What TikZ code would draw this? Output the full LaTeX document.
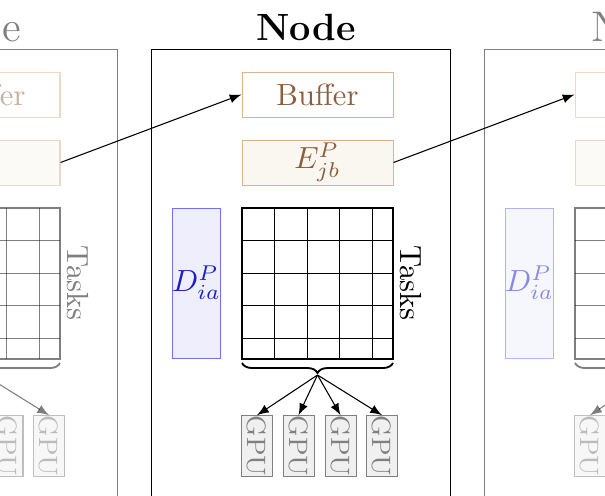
\documentclass[tikz,border=0pt]{standalone}
\usetikzlibrary{decorations.pathreplacing,arrows}
\definecolor{brownT}{RGB}{140,95,60}
\definecolor{brownB}{RGB}{217,180,143}
\definecolor{brownF}{RGB}{250,246,240}
\definecolor{blueF}{RGB}{238,238,252}
\definecolor{blueB}{RGB}{110,110,255}
\definecolor{blueT}{RGB}{30,30,200}
\definecolor{gpuF}{RGB}{240,240,240}
\definecolor{gpuB}{RGB}{128,128,128}
\tikzset{
  bufbox/.style={draw=brownB, line width=0.33pt, text=brownT, inner sep=0pt, minimum width={151*0.327pt}, minimum height={45*0.327pt}},
  ebox/.style={bufbox, fill=brownF},
  dbox/.style={draw=blueB, line width=0.33pt, fill=blueF, text=blueT, inner sep=0pt, minimum width={45*0.327pt}, minimum height={150*0.327pt}},
  gridbox/.style={draw, inner sep=0pt, minimum width={151*0.327pt}, minimum height={151*0.327pt}},
  outerbox/.style={draw, line width=0.35pt, inner sep=0pt, anchor=north west, minimum width={299*0.327pt}, minimum height={481*0.327pt}},
  gpubox/.style={draw=gpuB, line width=0.33pt, fill=gpuF, text=gpuB, inner sep=0pt, minimum width={31*0.327pt}, minimum height={60*0.327pt}, font=\fontsize{8.7}{10}\selectfont},
  maintitle/.style={font=\fontsize{12.4}{15}\selectfont\bfseries},
  fadetitle/.style={font=\fontsize{14}{16}\selectfont},
  conn/.style={-latex, line width=0.35pt},
}
% #1 prefix, #2 xshift, #3 opacity, #4 title style, #5 E text, #6 GPU arrow targets
\newcommand\nodepanel[6]{%
\begin{scope}[shift={(#2,0)}, opacity=#3, text opacity=#3]
  \node[#4] (#1title) at (306,27) {Node};
  \node[outerbox] (#1box) at (151,49) {};
  \node[bufbox] (#1buf) at (317.5,94.5) {Buffer};
  \node[ebox] (#1E) at (317.5,162.5) {#5};
  \node[dbox] (#1D) at (196.5,283) {$D^P_{ia}$};
  \node[gridbox] (#1grid) at (317.5,283.5) {};
  \foreach \gx in {274.6,307.2,339.8,372.4} \draw (\gx,208) -- (\gx,359);
  \foreach \gy in {240.6,273.2,305.8,338.4} \draw (242,\gy) -- (393,\gy);
  \node[rotate=-90] (#1tasks) at (411,283) {Tasks};
  \draw[decorate, decoration={brace, mirror, amplitude={10*0.327pt}}, line width=0.6pt] (242,363) -- (393,363);
  \coordinate (#1tip) at (317.5,375);
  \node[gpubox] (#1g1) at (257,446) {\rotatebox{-90}{GPU}};
  \node[gpubox] (#1g2) at (298.5,446) {\rotatebox{-90}{GPU}};
  \node[gpubox] (#1g3) at (340.5,446) {\rotatebox{-90}{GPU}};
  \node[gpubox] (#1g4) at (382,446) {\rotatebox{-90}{GPU}};
  \foreach \k in {#6} \draw[conn] (#1tip) -- (#1g\k.north);
\end{scope}}
\begin{document}
\begin{tikzpicture}[x=0.327pt, y=-0.327pt]
  \useasboundingbox (0,0) rectangle (605,495);
  \clip (0,0) rectangle (605,495);
  \nodepanel{L}{-333}{0.5}{fadetitle}{}{4}
  \nodepanel{R}{333}{0.5}{fadetitle}{$E^P_{jb}$}{1,2,3,4}
  \nodepanel{M}{0}{1}{maintitle}{$E^P_{jb}$}{1,2,3,4}
  \draw[conn] (LE.east) -- (Mbuf.west);
  \draw[conn] (ME.east) -- (Rbuf.west);
\end{tikzpicture}
\end{document}
